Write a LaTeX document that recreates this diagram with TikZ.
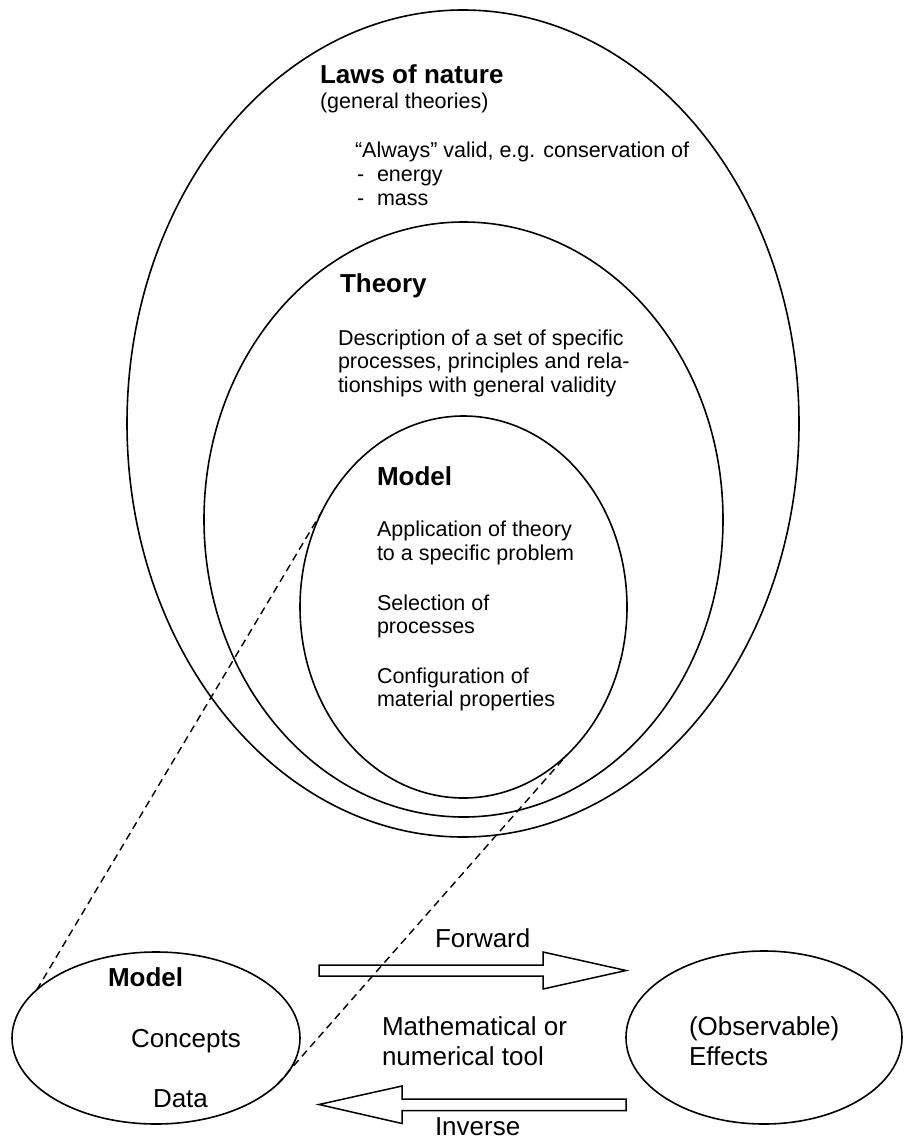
\documentclass[tikz,border=0pt]{standalone}
\usepackage{fontspec}
\setmainfont{Liberation Sans}
\usetikzlibrary{shapes.geometric}

\newcommand\headfont{\fontsize{26}{30}\selectfont\bfseries}
\newcommand\bodyfont{\fontsize{21.5}{25}\selectfont}
\newcommand\labelfont{\fontsize{26}{30}\selectfont}

\tikzset{
  ring/.style={draw, ellipse, line width=1.6pt, inner sep=0pt, outer sep=0pt},
  txt/.style={anchor=base west, inner sep=0pt, outer sep=0pt, font=\bodyfont},
  head/.style={txt, font=\headfont},
  lbl/.style={txt, font=\labelfont},
  dashline/.style={line width=1.4pt, dash pattern=on 7.5pt off 5pt},
  blockarrow/.style={draw, line width=1.5pt, fill=white, line join=miter},
}

\begin{document}
\begin{tikzpicture}[x=1pt, y=-1pt]
\useasboundingbox (0,0) rectangle (903,1140);

% nested domains of validity
\node[ring, minimum width=672pt, minimum height=827pt] (laws) at (463,423.5) {};
\node[ring, minimum width=519pt, minimum height=595pt] (theory) at (463.5,519.5) {};
\node[ring, minimum width=327pt, minimum height=382pt] (model) at (463.5,607) {};

% laws of nature
\node[head] (lawsT) at (320,83) {Laws of nature};
\node[txt] (lawsS) at (320,108) {(general theories)};
\node[txt] (lawsA) at (355,157) {“Always” valid, e.g. conservation of};
\node[txt] (lawsB) at (357,181) {\makebox[20pt][l]{-}energy};
\node[txt] (lawsC) at (357,205.5) {\makebox[20pt][l]{-}mass};

% theory
\node[head] (theoryT) at (340,292) {Theory};
\node[txt] (theoryA) at (338,345) {Description of a set of specific};
\node[txt] (theoryB) at (338,368.5) {processes, principles and rela-};
\node[txt] (theoryC) at (338,392) {tionships with general validity};

% model
\node[head] (modelT) at (377,485) {Model};
\node[txt] (modelA) at (377,536.5) {Application of theory};
\node[txt] (modelB) at (377,560) {to a specific problem};
\node[txt] (modelC) at (377,610) {Selection of};
\node[txt] (modelD) at (377,633.5) {processes};
\node[txt] (modelE) at (377,683) {Configuration of};
\node[txt] (modelF) at (377,706.5) {material properties};

% lower row: model, tool, effects
\node[ring, minimum width=288pt, minimum height=172pt] (modelS) at (156,1038) {};
\node[head] (modelST) at (108,986) {Model};
\node[lbl] (concepts) at (131,1047) {Concepts};
\node[lbl] (data) at (153,1107) {Data};

\node[ring, minimum width=276pt, minimum height=173pt] (effects) at (764,1037.5) {};
\node[lbl] (effectsA) at (689,1035) {(Observable)};
\node[lbl] (effectsB) at (689,1065) {Effects};

\node[lbl] (toolA) at (382,1035) {Mathematical or};
\node[lbl] (toolB) at (382,1065) {numerical tool};

% forward and inverse block arrows
\coordinate (fwdTail) at (319,970.5);
\coordinate (fwdTip) at (626,970.5);
\draw[blockarrow] (fwdTail) ++(0,-5.5) -- ++(224,0) -- ++(0,-13) -- (fwdTip)
  -- ++(-83,18.5) -- ++(0,-13) -- ++(-224,0) -- cycle;
\node[lbl] (fwd) at (435,947) {Forward};

\coordinate (invTail) at (626,1104.5);
\coordinate (invTip) at (319,1104.5);
\draw[blockarrow] (invTail) ++(0,-5.5) -- ++(-224,0) -- ++(0,-13) -- (invTip)
  -- ++(83,19) -- ++(0,-13) -- ++(224,0) -- cycle;
\node[lbl] (inv) at (435,1135.5) {Inverse};

% zoom lines from the model domain to the model box
\draw[dashline] (modelS.158) -- (model.146);
\draw[dashline] (modelS.339) -- (model.305);
\end{tikzpicture}
\end{document}
